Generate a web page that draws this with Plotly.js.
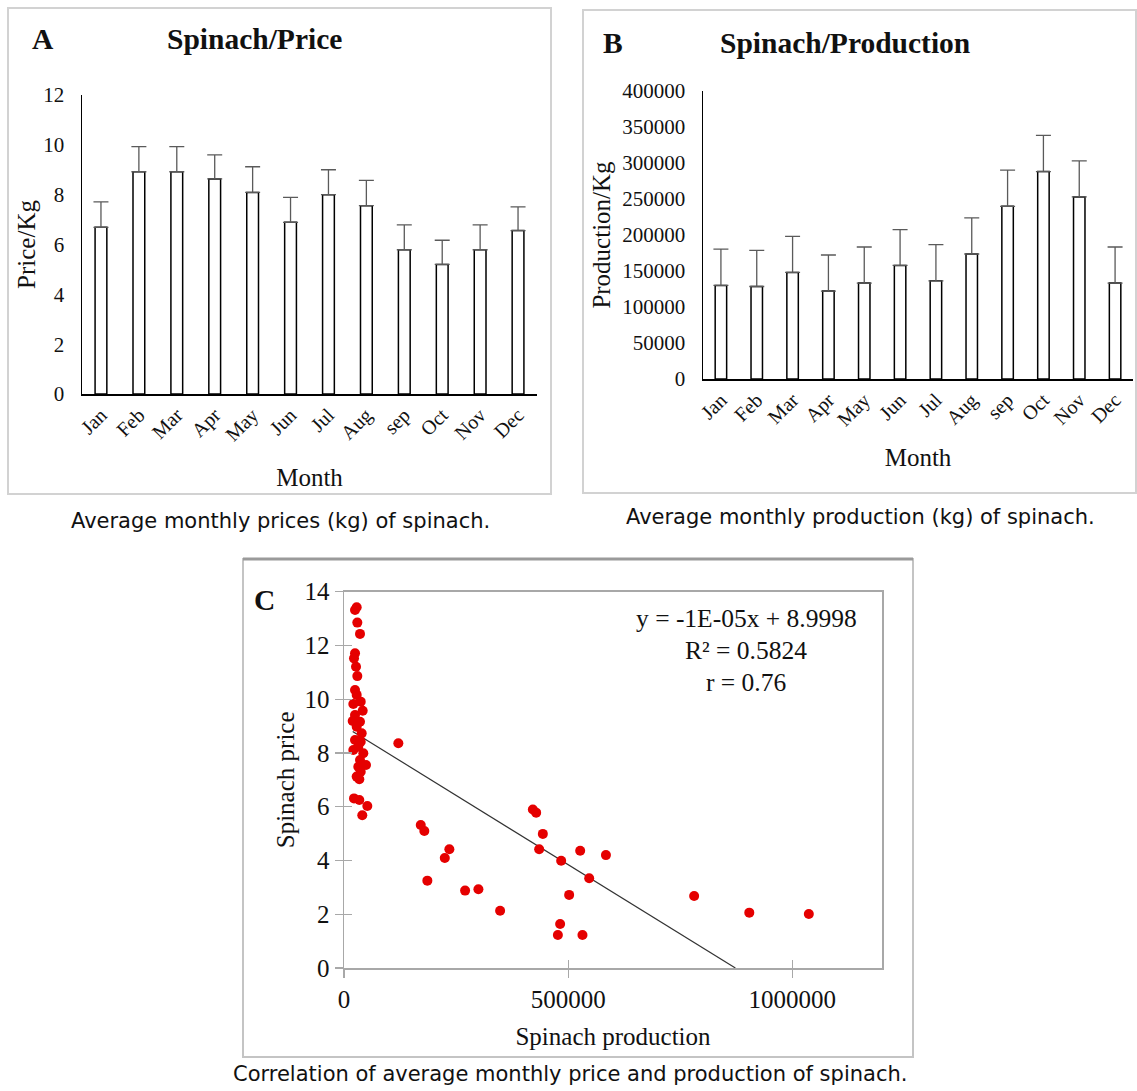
<!DOCTYPE html>
<html>
<head>
<meta charset="utf-8">
<script src="https://cdn.plot.ly/plotly-3.0.1.min.js"></script>
<style>
  html, body { margin: 0; padding: 0; background: #ffffff; }
  #chart { width: 1137px; height: 1091px; }
</style>
</head>
<body>
<div id="chart"></div>
<script>
// ---------------- DATA ----------------
const months = ['Jan','Feb','Mar','Apr','May','Jun','Jul','Aug','sep','Oct','Nov','Dec'];

// Panel A: average monthly price (per kg) and its error (upper bar)
const priceMean = [6.69, 8.92, 8.92, 8.63, 8.09, 6.89, 8.00, 7.56, 5.79, 5.20, 5.79, 6.56];
const priceErr  = [1.02, 1.01, 1.01, 0.97, 1.03, 1.00, 1.00, 1.01, 1.00, 0.97, 1.00, 0.95];

// Panel B: average monthly production (kg) and its error (upper bar)
const prodMean = [129900, 128500, 148000, 122100, 133200, 157700, 136400, 173600, 239800, 288100, 252900, 133200];
const prodErr  = [ 50600,  50100,  50100,  50100,  50100,  49700,  50100,  50100,  50200,  50200,  50100,  50100];

// Panel C: production (x) vs price (y)
const scatterProd = [
  28300, 24600, 29700, 35700, 24600, 22300, 26800, 29700, 24600, 28300,
  37300, 20800, 41700, 24600, 19400, 35700, 28300, 39500, 24600, 37300,
  20800, 31900, 43100, 35700, 49100, 31900, 37300, 28300, 34200, 22300,
  34200, 52000, 40800, 121200, 171200, 179200, 185900, 224800, 235000, 270100,
  299800, 348200, 421200, 428600, 443500, 435300, 484400, 526800, 546900, 584200,
  502200, 482100, 477000, 531900, 781000, 904000, 1036800
];
const scatterPrice = [
  13.42, 13.32, 12.85, 12.43, 11.71, 11.52, 11.21, 10.86, 10.34, 10.16,
  9.91, 9.82, 9.57, 9.41, 9.19, 9.16, 8.98, 8.73, 8.48, 8.42,
  8.11, 8.23, 7.99, 7.74, 7.55, 7.49, 7.30, 7.12, 7.02, 6.31,
  6.25, 6.03, 5.68, 8.36, 5.32, 5.10, 3.25, 4.09, 4.42, 2.88,
  2.93, 2.13, 5.90, 5.78, 4.99, 4.42, 3.99, 4.36, 3.34, 4.20,
  2.72, 1.64, 1.23, 1.23, 2.68, 2.06, 2.01
];

// Linear trend (as drawn): y = slope * x + intercept
const trendSlope = -1.031e-5;
const trendIntercept = 8.9998;
const trendLabel = ['y = -1E-05x + 8.9998', 'R² = 0.5824', 'r = 0.76'];

// ---------------- LAYOUT HELPERS ----------------
const W = 1137, H = 1091;
const px = (a, b) => [a / W, b / W];
const py = (top, bottom) => [1 - bottom / H, 1 - top / H];
const fx = v => v / W;
const fy = v => 1 - v / H;

const serif = 'Liberation Serif, Times New Roman, serif';
const sans = 'DejaVu Sans, Verdana, sans-serif';
const ink = '#111111';

// trend line drawn from the smallest production to where price reaches 0
const trendX0 = Math.min(...scatterProd);
const trendX1 = -trendIntercept / trendSlope;
const trendX = [trendX0, trendX1];
const trendY = trendX.map(v => trendSlope * v + trendIntercept);

const barStyle = {
  color: '#ffffff',
  line: { color: '#000000', width: 1.5 }
};

const traces = [
  {
    type: 'bar', x: months, y: priceMean, xaxis: 'x', yaxis: 'y',
    marker: barStyle, width: 0.31,
    error_y: { type: 'data', array: priceErr, arrayminus: priceErr.map(() => 0), symmetric: false,
               color: '#5a5a5a', thickness: 1.3, width: 7.5 },
    hoverinfo: 'x+y', showlegend: false
  },
  {
    type: 'bar', x: months, y: prodMean, xaxis: 'x2', yaxis: 'y2',
    marker: barStyle, width: 0.32,
    error_y: { type: 'data', array: prodErr, arrayminus: prodErr.map(() => 0), symmetric: false,
               color: '#5a5a5a', thickness: 1.3, width: 7.5 },
    hoverinfo: 'x+y', showlegend: false
  },
  {
    type: 'scatter', mode: 'lines', x: trendX, y: trendY, xaxis: 'x3', yaxis: 'y3',
    line: { color: '#333333', width: 1.2 }, hoverinfo: 'skip', showlegend: false
  },
  {
    type: 'scatter', mode: 'markers', x: scatterProd, y: scatterPrice, xaxis: 'x3', yaxis: 'y3',
    marker: { color: '#e50000', size: 10, line: { width: 0 } }, showlegend: false
  },
  { // helper trace for inner half of crossing ticks
    type: 'scatter', mode: 'markers', x: [], y: [], xaxis: 'x4', yaxis: 'y4', showlegend: false, hoverinfo: 'skip'
  }
];

const tickFontAB = { family: serif, size: 21, color: ink };
const titleFontAB = { family: serif, size: 25, color: ink };

const annotation = (text, x, y, font) => ({
  text, x: fx(x), y: fy(y), xref: 'paper', yref: 'paper', showarrow: false,
  font, xanchor: 'center', yanchor: 'middle', align: 'center'
});
const bold = { family: serif, size: 29.5, color: ink };
const captionFont = { family: sans, size: 21, color: ink };
const eqFont = { family: serif, size: 25.5, color: ink };

const layout = {
  width: W, height: H,
  margin: { l: 0, r: 0, t: 0, b: 0, pad: 0 },
  paper_bgcolor: '#ffffff', plot_bgcolor: '#ffffff',
  showlegend: false,
  bargap: 0,
  // ----- A -----
  xaxis: {
    domain: px(82, 537), anchor: 'y',
    type: 'category', range: [-0.5, 11.5],
    showline: true, linecolor: '#000000', linewidth: 1.5,
    ticks: '', tickangle: -45, tickfont: { family: serif, size: 20, color: ink },
    showgrid: false, zeroline: false,
    title: { text: 'Month', font: titleFontAB, standoff: 23 }
  },
  yaxis: {
    domain: py(95, 394), anchor: 'x',
    range: [0, 12], dtick: 2, tick0: 0,
    showline: true, linecolor: '#000000', linewidth: 1.5,
    ticks: '', tickfont: tickFontAB, ticklabelstandoff: 12,
    showgrid: false, zeroline: false,
    title: { text: 'Price/Kg', font: titleFontAB, standoff: 0 }
  },
  // ----- B -----
  xaxis2: {
    domain: px(703, 1133), anchor: 'y2',
    type: 'category', range: [-0.5, 11.5],
    showline: true, linecolor: '#000000', linewidth: 1.5,
    ticks: '', tickangle: -45, tickfont: { family: serif, size: 20, color: ink },
    showgrid: false, zeroline: false,
    title: { text: 'Month', font: titleFontAB, standoff: 18 }
  },
  yaxis2: {
    domain: py(91, 379), anchor: 'x2',
    range: [0, 400000], dtick: 50000, tick0: 0, tickformat: 'd',
    showline: true, linecolor: '#000000', linewidth: 1.5,
    ticks: '', tickfont: tickFontAB, ticklabelstandoff: 12,
    showgrid: false, zeroline: false,
    title: { text: 'Production/Kg', font: titleFontAB, standoff: 4 }
  },
  // ----- C -----
  xaxis3: {
    domain: px(344, 882), anchor: 'y3',
    range: [0, 1200000], dtick: 500000, tick0: 0, tickformat: 'd',
    showline: true, linecolor: '#a8a8a8', linewidth: 1.5, mirror: true,
    ticks: 'outside', ticklen: 8, tickcolor: '#a8a8a8', tickwidth: 1.2,
    tickfont: { family: serif, size: 25, color: ink },
    showgrid: false, zeroline: false,
    title: { text: 'Spinach production', font: { family: serif, size: 25, color: ink }, standoff: 16 }
  },
  yaxis3: {
    domain: py(591.7, 968), anchor: 'x3',
    range: [0, 14], dtick: 2, tick0: 0,
    showline: true, linecolor: '#a8a8a8', linewidth: 1.5, mirror: true,
    ticks: 'outside', ticklen: 8, tickcolor: '#a8a8a8', tickwidth: 1.2,
    tickfont: { family: serif, size: 25, color: ink },
    showgrid: false, zeroline: false,
    title: { text: 'Spinach price', font: { family: serif, size: 25, color: ink }, standoff: 2 }
  },
  xaxis4: {
    overlaying: 'x3', anchor: 'y4', side: 'bottom',
    range: [0, 1200000], dtick: 500000, tick0: 0,
    showline: false, showgrid: false, zeroline: false, showticklabels: false,
    ticks: 'inside', ticklen: 8, tickcolor: '#a8a8a8', tickwidth: 1.2
  },
  yaxis4: {
    overlaying: 'y3', anchor: 'x4', side: 'left',
    range: [0, 14], dtick: 2, tick0: 0,
    showline: false, showgrid: false, zeroline: false, showticklabels: false,
    ticks: 'inside', ticklen: 8, tickcolor: '#a8a8a8', tickwidth: 1.2
  },
  shapes: [
    // panel frames
    { type: 'rect', xref: 'paper', yref: 'paper', x0: fx(8), x1: fx(551), y0: fy(8), y1: fy(494),
      line: { color: '#d2d2d2', width: 2 }, fillcolor: 'rgba(0,0,0,0)', layer: 'below' },
    { type: 'rect', xref: 'paper', yref: 'paper', x0: fx(583), x1: fx(1136), y0: fy(10), y1: fy(493),
      line: { color: '#d2d2d2', width: 2 }, fillcolor: 'rgba(0,0,0,0)', layer: 'below' },
    { type: 'rect', xref: 'paper', yref: 'paper', x0: fx(243), x1: fx(913), y0: fy(559), y1: fy(1057),
      line: { color: '#c4c4c4', width: 2 }, fillcolor: 'rgba(0,0,0,0)', layer: 'below' },
    { type: 'line', xref: 'paper', yref: 'paper', x0: fx(243), x1: fx(913), y0: fy(559), y1: fy(559),
      line: { color: '#9a9a9a', width: 3 }, layer: 'below' }
  ],
  annotations: [
    annotation('<b>A</b>', 43, 39, bold),
    annotation('<b>Spinach/Price</b>', 254, 39, bold),
    annotation('<b>B</b>', 613, 43, bold),
    annotation('<b>Spinach/Production</b>', 845, 43, bold),
    annotation('<b>C</b>', 264, 600, bold),
    annotation(trendLabel[0], 746, 618, eqFont),
    annotation(trendLabel[1], 746, 650, eqFont),
    annotation(trendLabel[2], 746, 682, eqFont),
    annotation('Average monthly prices (kg) of spinach.', 280, 521, captionFont),
    annotation('Average monthly production (kg) of spinach.', 860, 517, captionFont),
    annotation('Correlation of average monthly price and production of spinach.', 570, 1074, captionFont)
  ]
};

Plotly.newPlot('chart', traces, layout, { staticPlot: true, displayModeBar: false });
</script>
</body>
</html>
